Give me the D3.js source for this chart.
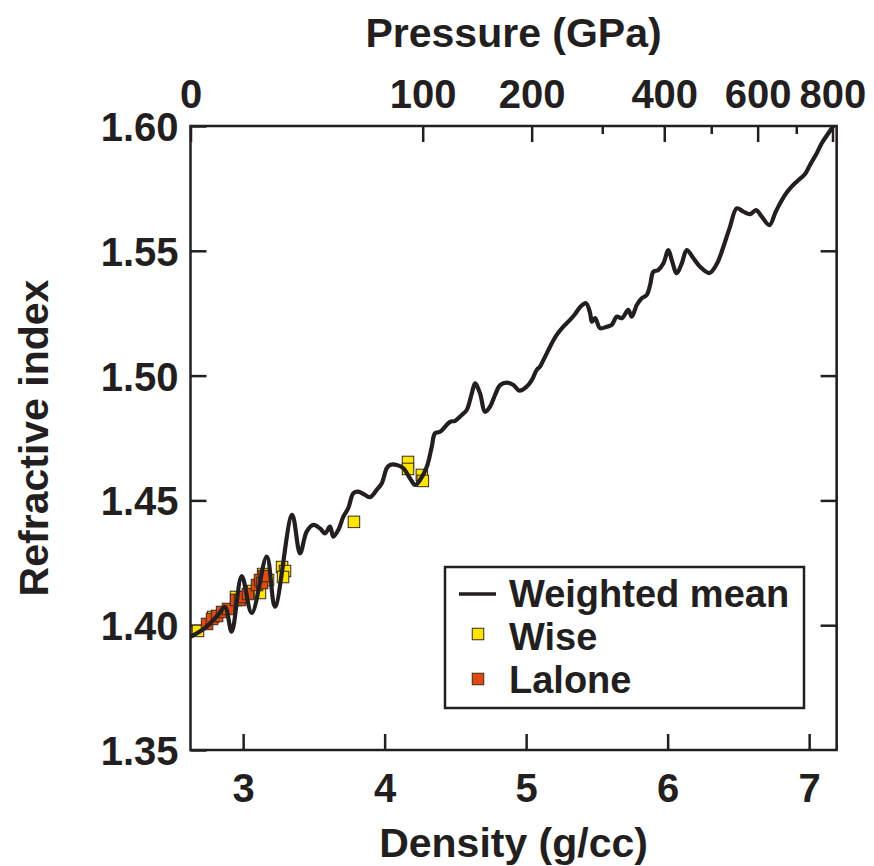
<!DOCTYPE html>
<html>
<head>
<meta charset="utf-8">
<script src="https://cdn.jsdelivr.net/npm/d3@7"></script>
<style>
  body { margin: 0; background: #fff; }
  svg text { font-family: "Liberation Sans", Arial, Helvetica, sans-serif; font-weight: bold; fill: #231f20; }
</style>
</head>
<body>
<div id="chart"></div>
<script>
'use strict';

// weighted mean curve (density g/cc, refractive index)
var meanDensity = [2.628, 2.731, 2.823, 2.872, 2.919, 2.990, 3.061, 3.167, 3.225, 3.346,
  3.402, 3.449, 3.496, 3.543, 3.579, 3.614, 3.637, 3.673, 3.708, 3.743,
  3.779, 3.814, 3.861, 3.897, 3.944, 3.980, 4.015, 4.038, 4.086, 4.132,
  4.179, 4.215, 4.250, 4.298, 4.333, 4.356, 4.392, 4.427, 4.462, 4.498,
  4.545, 4.580, 4.616, 4.639, 4.674, 4.710, 4.745, 4.780, 4.816, 4.863,
  4.910, 4.952, 5.004, 5.040, 5.075, 5.098, 5.134, 5.169, 5.216, 5.263,
  5.310, 5.346, 5.381, 5.423, 5.452, 5.464, 5.487, 5.522, 5.570, 5.605,
  5.640, 5.676, 5.722, 5.746, 5.782, 5.817, 5.852, 5.876, 5.899, 5.934,
  5.970, 6.005, 6.029, 6.064, 6.100, 6.135, 6.182, 6.229, 6.295, 6.347,
  6.394, 6.441, 6.488, 6.535, 6.583, 6.625, 6.665, 6.719, 6.759, 6.782,
  6.830, 6.865, 6.912, 6.971, 7.006, 7.054, 7.089, 7.136, 7.171];
var meanIndex = [1.3953, 1.3989, 1.4041, 1.4073, 1.3974, 1.4197, 1.4049, 1.4275, 1.4074, 1.4442,
  1.4288, 1.4375, 1.4402, 1.4388, 1.4368, 1.4395, 1.4355, 1.4382, 1.4435, 1.4469,
  1.4529, 1.4535, 1.4522, 1.4513, 1.4542, 1.4569, 1.4629, 1.4642, 1.4642, 1.4629,
  1.4589, 1.4562, 1.4582, 1.4635, 1.4715, 1.4769, 1.4775, 1.4795, 1.4815, 1.4819,
  1.4842, 1.4862, 1.4929, 1.4969, 1.4929, 1.4855, 1.4876, 1.4922, 1.4962, 1.4972,
  1.4962, 1.4940, 1.4956, 1.4982, 1.5023, 1.5036, 1.5076, 1.5116, 1.5163, 1.5196,
  1.5223, 1.5247, 1.5274, 1.5290, 1.5250, 1.5216, 1.5230, 1.5190, 1.5196, 1.5203,
  1.5236, 1.5230, 1.5263, 1.5236, 1.5283, 1.5310, 1.5323, 1.5363, 1.5416, 1.5423,
  1.5450, 1.5503, 1.5463, 1.5410, 1.5450, 1.5503, 1.5470, 1.5436, 1.5411, 1.5447,
  1.5516, 1.5597, 1.5670, 1.5657, 1.5647, 1.5663, 1.5637, 1.5603, 1.5650, 1.5677,
  1.5724, 1.5750, 1.5777, 1.5808, 1.5844, 1.5891, 1.5931, 1.5971, 1.6000];

// Wise data
var wiseDensity = [2.681, 2.788, 2.950, 3.070, 3.119, 3.141, 3.176, 3.275, 3.296, 3.282,
  3.783, 4.165, 4.165, 4.263, 4.270];
var wiseIndex = [1.3977, 1.4033, 1.4113, 1.4137, 1.4129, 1.4205, 1.4181, 1.4233, 1.4217, 1.4193,
  1.4414, 1.4654, 1.4626, 1.4602, 1.4578];

// Lalone data
var laloneDensity = [2.745, 2.780, 2.816, 2.851, 2.893, 2.950, 2.978, 2.999, 3.034, 3.098,
  3.119, 3.134, 3.148];
var laloneIndex = [1.4005, 1.4025, 1.4037, 1.4053, 1.4065, 1.4101, 1.4101, 1.4113, 1.4125, 1.4161,
  1.4181, 1.4169, 1.4197];

// axis ticks
var densityTicks = [3, 4, 5, 6, 7];
var indexTicks = [1.35, 1.40, 1.45, 1.50, 1.55, 1.60];
var pressureTicks = [0, 100, 200, 300, 400, 500, 600, 700, 800];
var pressureTickDensity = [2.628, 4.269, 5.039, 5.538, 5.976, 6.308, 6.636, 6.909, 7.165];
var pressureLabelled = [0, 100, 200, 400, 600, 800];

var legendItems = ['Weighted mean', 'Wise', 'Lalone'];

var width = 874, height = 866;
var margin = {top: 126, right: 37.4, bottom: 116, left: 190.5};
var innerW = width - margin.left - margin.right,
    innerH = height - margin.top - margin.bottom;

var ink = '#231f20', wiseColor = '#ffe500', laloneColor = '#de4a12';

var svg = d3.select('#chart').append('svg')
    .attr('width', width)
    .attr('height', height);

var g = svg.append('g')
    .attr('transform', 'translate(' + margin.left + ',' + margin.top + ')');

var x = d3.scaleLinear().domain([2.628, 7.194]).range([0, innerW]);
var y = d3.scaleLinear().domain([1.35, 1.60]).range([innerH, 0]);

// bottom axis (density), ticks point inward
var xAxis = g.append('g')
    .attr('transform', 'translate(0,' + innerH + ')')
    .call(d3.axisBottom(x).tickValues(densityTicks).tickFormat(d3.format('d'))
      .tickSizeInner(-16).tickSizeOuter(0).tickPadding(24));

// left axis (refractive index)
var yAxis = g.append('g')
    .call(d3.axisLeft(y).tickValues(indexTicks).tickFormat(d3.format('.2f'))
      .tickSizeInner(-16).tickSizeOuter(0).tickPadding(12));

// right axis, ticks only
g.append('g')
    .attr('transform', 'translate(' + innerW + ',0)')
    .call(d3.axisRight(y).tickValues(indexTicks.slice(1, 5)).tickFormat('')
      .tickSizeInner(-16).tickSizeOuter(0));

// top axis (pressure), not linear in density
var pressureByDensity = d3.scaleOrdinal().domain(pressureTickDensity).range(pressureTicks);
var topAxis = g.append('g')
    .call(d3.axisTop(x).tickValues(pressureTickDensity)
      .tickFormat(function(d) {
        var p = pressureByDensity(d);
        return pressureLabelled.indexOf(p) >= 0 ? p : '';
      })
      .tickSizeInner(-16).tickSizeOuter(0).tickPadding(18));
topAxis.selectAll('.tick line')
    .attr('y2', function(d) {
      return pressureLabelled.indexOf(pressureByDensity(d)) >= 0 ? 16 : 8;
    });

[xAxis, yAxis, topAxis].forEach(function(ax) {
  ax.select('.domain').remove();
  ax.selectAll('text').style('font-size', '40px').attr('fill', ink);
});
g.selectAll('.tick line').attr('stroke', ink).attr('stroke-width', 2.5);
yAxis.selectAll('text').attr('dy', '0.36em');

// frame
g.append('rect')
    .attr('width', innerW)
    .attr('height', innerH)
    .attr('fill', 'none')
    .attr('stroke', ink)
    .attr('stroke-width', 2.5);

g.append('clipPath').attr('id', 'plotclip')
  .append('rect').attr('width', innerW).attr('height', innerH);

var plot = g.append('g').attr('clip-path', 'url(#plotclip)');
var size = 11.5;

// markers
function drawSquares(xs, ys, color) {
  plot.append('g').selectAll('rect')
    .data(xs.map(function(d, i) { return [d, ys[i]]; }))
    .enter()
      .append('rect')
      .attr('x', function(d) { return x(d[0]) - size / 2; })
      .attr('y', function(d) { return y(d[1]) - size / 2; })
      .attr('width', size)
      .attr('height', size)
      .attr('fill', color)
      .attr('stroke', '#3a2a1a')
      .attr('stroke-width', 1);
}
drawSquares(wiseDensity, wiseIndex, wiseColor);
drawSquares(laloneDensity, laloneIndex, laloneColor);

// weighted mean line on top
var line = d3.line()
    .curve(d3.curveCatmullRom.alpha(0.5))
    .x(function(d) { return x(d[0]); })
    .y(function(d) { return y(d[1]); });

plot.append('path')
    .datum(meanDensity.map(function(d, i) { return [d, meanIndex[i]]; }))
    .attr('d', line)
    .attr('fill', 'none')
    .attr('stroke', ink)
    .attr('stroke-width', 4.2)
    .attr('stroke-linejoin', 'round')
    .attr('stroke-linecap', 'round');

// axis titles
svg.append('text')
    .attr('x', margin.left + innerW / 2)
    .attr('y', 47)
    .attr('text-anchor', 'middle')
    .style('font-size', '41px')
    .text('Pressure (GPa)');

svg.append('text')
    .attr('x', margin.left + innerW / 2)
    .attr('y', 857)
    .attr('text-anchor', 'middle')
    .style('font-size', '41px')
    .text('Density (g/cc)');

svg.append('text')
    .attr('transform', 'translate(48,' + (margin.top + innerH / 2) + ') rotate(-90)')
    .attr('text-anchor', 'middle')
    .style('font-size', '41px')
    .text('Refractive index');

// legend
var legend = svg.append('g').attr('transform', 'translate(445,567)');
legend.append('rect')
    .attr('width', 359)
    .attr('height', 141)
    .attr('fill', '#fff')
    .attr('stroke', ink)
    .attr('stroke-width', 2.5);

legend.append('line')
    .attr('x1', 14).attr('x2', 51)
    .attr('y1', 27).attr('y2', 27)
    .attr('stroke', ink)
    .attr('stroke-width', 3.5);

[wiseColor, laloneColor].forEach(function(c, i) {
  legend.append('rect')
    .attr('x', 33 - size / 2)
    .attr('y', 67 + i * 45 - size / 2)
    .attr('width', size)
    .attr('height', size)
    .attr('fill', c)
    .attr('stroke', '#3a2a1a')
    .attr('stroke-width', 1);
});

legend.selectAll('text.item')
  .data(legendItems)
  .enter()
    .append('text')
    .attr('class', 'item')
    .attr('x', 64)
    .attr('y', function(d, i) { return 40 + i * 43; })
    .style('font-size', '38px')
    .text(function(d) { return d; });
</script>
</body>
</html>
